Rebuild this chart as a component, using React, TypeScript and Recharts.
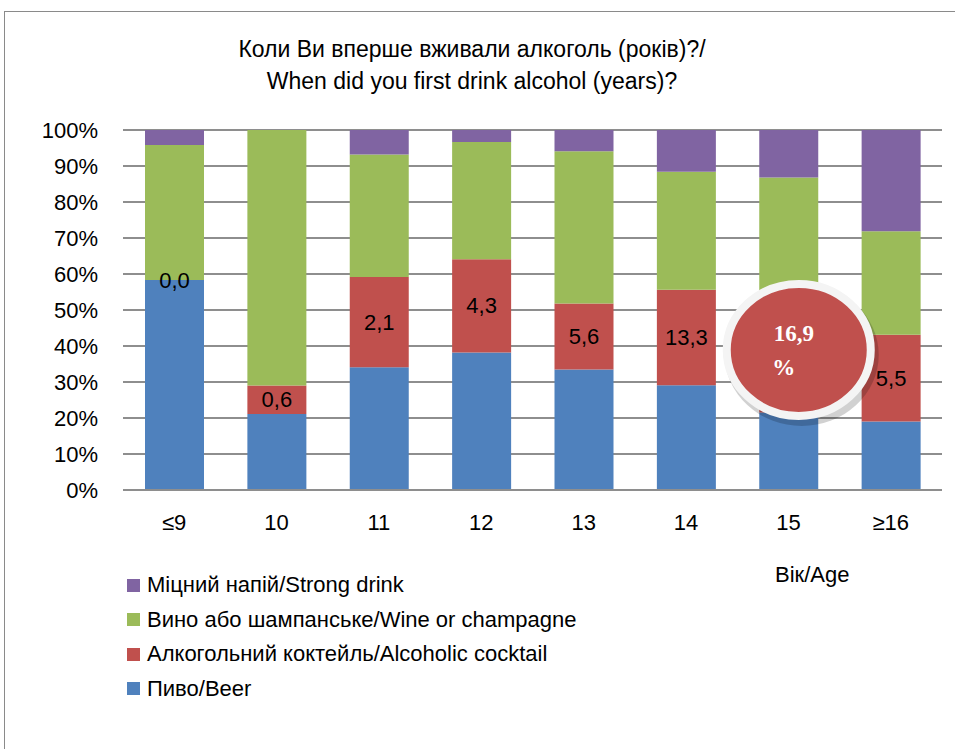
import React from 'react';
import { BarChart, Bar, XAxis, YAxis, CartesianGrid, LabelList } from 'recharts';

// age groups and shares (%)
const ages = ['≤9', '10', '11', '12', '13', '14', '15', '≥16'];
const beer = [58.3, 21.1, 34.1, 38.2, 33.5, 29.1, 21.5, 19.0];
const cocktail = [0, 7.9, 25.1, 25.9, 18.3, 26.5, 31.5, 24.1];
const wine = [37.5, 71.0, 34.0, 32.6, 42.3, 32.8, 33.8, 28.8];
const strong = [4.2, 0, 6.8, 3.3, 5.9, 11.6, 13.2, 28.1];
const cocktailLabels = ['0,0', '0,6', '2,1', '4,3', '5,6', '13,3', '16,9', '5,5'];
const yTicks = [0, 10, 20, 30, 40, 50, 60, 70, 80, 90, 100];

const data = ages.map((age, i) => ({
  age,
  beer: beer[i],
  cocktail: cocktail[i],
  wine: wine[i],
  strong: strong[i],
  label: cocktailLabels[i],
}));

const series = [
  { key: 'strong', name: 'Міцний напій/Strong drink', color: '#8064a2' },
  { key: 'wine', name: 'Вино або шампанське/Wine or champagne', color: '#9bbb59' },
  { key: 'cocktail', name: 'Алкогольний коктейль/Alcoholic cocktail', color: '#c0504d' },
  { key: 'beer', name: 'Пиво/Beer', color: '#4f81bd' },
];

const FONT = '"Liberation Sans", Arial, sans-serif';
const HIGHLIGHT = 6; // the 15-year-olds get the big red bubble

// label hangs off the wine bar (never zero, drawn after beer and cocktail)
// and is centred on the cocktail segment just below it
const CocktailLabel = (props: any) => {
  const { x, y, width, height, index } = props;
  const perUnit = height / wine[index];
  const cx = x + width / 2;
  const cy = y + height + (cocktail[index] * perUnit) / 2;
  const value = cocktailLabels[index];
  if (index === HIGHLIGHT) {
    const bx = cx + 10;
    const by = cy - 6;
    return (
      <g>
        <ellipse cx={bx + 3} cy={by + 5} rx={77} ry={71} fill="rgba(0,0,0,0.18)" />
        <ellipse cx={bx} cy={by} rx={72} ry={66} fill="#c0504d" stroke="#f4f4f4" strokeWidth={8} />
        <text x={bx - 5} y={by - 9} textAnchor="middle" fill="#fff" fontFamily='"Liberation Serif", serif' fontWeight="bold" fontSize={23}>
          {value}
        </text>
        <text x={bx - 15} y={by + 25} textAnchor="middle" fill="#fff" fontFamily='"Liberation Serif", serif' fontWeight="bold" fontSize={23}>
          %
        </text>
      </g>
    );
  }
  return (
    <text x={cx} y={cy} textAnchor="middle" dominantBaseline="central" fill="#000" fontFamily={FONT} fontSize={22}>
      {value}
    </text>
  );
};

export default function App() {
  return (
    <div style={{ position: 'absolute', left: 0, top: 0, width: 955, height: 749, background: '#fff', overflow: 'hidden' }}>
      <div style={{ position: 'absolute', left: 4, top: 11, width: 960, height: 760, border: '1px solid #8a8a8a' }} />
      <div style={{ position: 'absolute', left: 0, top: 33, width: 944, textAlign: 'center', fontFamily: FONT, fontSize: 23, lineHeight: '32px', color: '#000' }}>
        Коли Ви вперше вживали алкоголь (років)?/
        <br />
        When did you first drink alcohol (years)?
      </div>
      <div style={{ position: 'absolute', left: 775, top: 562, fontFamily: FONT, fontSize: 22, color: '#000' }}>Вік/Age</div>
      <div style={{ position: 'absolute', left: 0, top: 0 }}>
        <BarChart width={955} height={749} data={data} margin={{ top: 130, right: 13, bottom: 229, left: 23 }} barSize={59}>
          <CartesianGrid vertical={false} stroke="#8e8e8e" strokeWidth={2} />
          <XAxis
            dataKey="age"
            axisLine={{ stroke: '#8e8e8e', strokeWidth: 2 }}
            tickLine={false}
            tickMargin={18}
            tick={{ fill: '#000', fontFamily: FONT, fontSize: 22 }}
          />
          <YAxis
            width={100}
            domain={[0, 100]}
            ticks={yTicks}
            interval={0}
            tickFormatter={(v: number) => `${v}%`}
            axisLine={false}
            tickLine={false}
            tickSize={0}
            tickMargin={25}
            tick={{ fill: '#000', fontFamily: FONT, fontSize: 22 }}
          />
          <Bar dataKey="beer" stackId="a" fill="#4f81bd" isAnimationActive={false} />
          <Bar dataKey="cocktail" stackId="a" fill="#c0504d" isAnimationActive={false} />
          <Bar dataKey="wine" stackId="a" fill="#9bbb59" isAnimationActive={false}>
            <LabelList dataKey="label" content={<CocktailLabel />} />
          </Bar>
          <Bar dataKey="strong" stackId="a" fill="#8064a2" isAnimationActive={false} />
        </BarChart>
      </div>
      <div style={{ position: 'absolute', left: 127, top: 568, fontFamily: FONT, fontSize: 22, color: '#000' }}>
        {series.map((s) => (
          <div key={s.key} style={{ display: 'flex', alignItems: 'center', height: 34.5 }}>
            <span style={{ width: 13, height: 13, background: s.color, marginRight: 7, display: 'inline-block' }} />
            {s.name}
          </div>
        ))}
      </div>
    </div>
  );
}
